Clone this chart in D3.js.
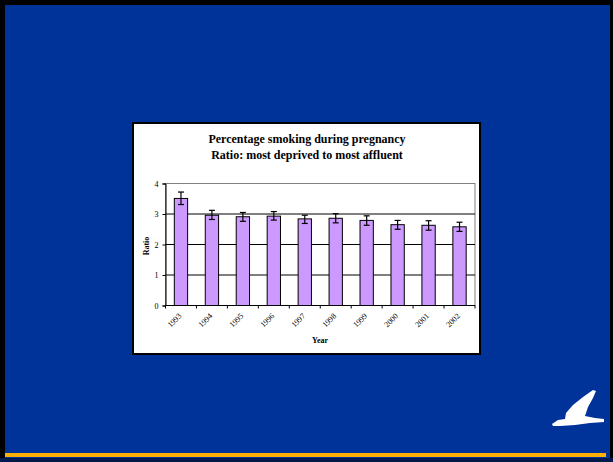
<!DOCTYPE html>
<html>
<head>
<meta charset="utf-8">
<script src="https://cdn.jsdelivr.net/npm/d3@7"></script>
<style>
  body { margin: 0; background: #fff; }
  svg { display: block; }
</style>
</head>
<body>
<div class="chart"></div>
<script>
// chart values
const years = ['1993', '1994', '1995', '1996', '1997', '1998', '1999', '2000', '2001', '2002'];
const ratios = [3.51, 2.96, 2.91, 2.93, 2.84, 2.86, 2.79, 2.65, 2.63, 2.58];
const errLow = [3.31, 2.82, 2.76, 2.80, 2.69, 2.71, 2.63, 2.50, 2.47, 2.43];
const errHigh = [3.72, 3.12, 3.05, 3.08, 2.96, 3.01, 2.94, 2.79, 2.78, 2.73];
const yTicks = [0, 1, 2, 3, 4];
const titleLines = ['Percentage smoking during pregnancy', 'Ratio: most deprived to most affluent'];

const width = 613;
const height = 462;

const svg = d3.select('.chart')
  .append('svg')
  .attr('width', width)
  .attr('height', height);

// slide frame
svg.append('rect').attr('x', 0).attr('y', 0).attr('width', width).attr('height', height).attr('fill', '#000');
svg.append('rect').attr('x', 5).attr('y', 5).attr('width', 605).attr('height', 453).attr('fill', '#003399');
svg.append('rect').attr('x', 5).attr('y', 453).attr('width', 601).attr('height', 4).attr('fill', '#ffb000');
svg.append('rect').attr('x', 0).attr('y', 458).attr('width', width).attr('height', 4).attr('fill', '#001a4d');

// bird logo
svg.append('path')
  .attr('d', 'M552,424 L558,420 L565,419 L566,413 L573,405 L583,397 L593,390 L596,391 L593,398 L588,407 L585,416 L595,418 L604,419 L604,422 L590,423 L575,425 L560,426 L553,426 Z')
  .attr('fill', '#fff');

// chart box
svg.append('rect')
  .attr('x', 133).attr('y', 123).attr('width', 347).attr('height', 231)
  .attr('fill', '#fff').attr('stroke', '#000').attr('stroke-width', 2);

const margin = { left: 165.5, right: 475, top: 183.5, bottom: 305.5 };

const x = d3.scaleBand()
  .domain(years)
  .range([margin.left, margin.right])
  .paddingInner(0.57)
  .paddingOuter(0.285);

const y = d3.scaleLinear()
  .domain([0, 4])
  .range([margin.bottom, margin.top]);

// plot area border
svg.append('rect')
  .attr('x', margin.left).attr('y', margin.top)
  .attr('width', margin.right - margin.left).attr('height', margin.bottom - margin.top)
  .attr('fill', 'none').attr('stroke', '#808080');

// gridlines
svg.append('g')
  .selectAll('line')
  .data(yTicks.filter(d => d > 0 && d < 4))
  .enter()
    .append('line')
    .attr('x1', margin.left).attr('x2', margin.right)
    .attr('y1', d => y(d)).attr('y2', d => y(d))
    .attr('stroke', '#000');

// bars
svg.append('g')
  .selectAll('rect')
  .data(ratios)
  .enter()
    .append('rect')
    .attr('x', (d, i) => x(years[i]))
    .attr('y', d => y(d))
    .attr('width', x.bandwidth())
    .attr('height', d => y(0) - y(d))
    .attr('fill', '#cc99ff')
    .attr('stroke', '#000');

// error bars
const err = svg.append('g').attr('stroke', '#000').attr('stroke-width', 1.2);
years.forEach((yr, i) => {
  const cx = x(yr) + x.bandwidth() / 2;
  err.append('line').attr('x1', cx).attr('x2', cx).attr('y1', y(errLow[i])).attr('y2', y(errHigh[i]));
  err.append('line').attr('x1', cx - 3).attr('x2', cx + 3).attr('y1', y(errLow[i])).attr('y2', y(errLow[i]));
  err.append('line').attr('x1', cx - 3).attr('x2', cx + 3).attr('y1', y(errHigh[i])).attr('y2', y(errHigh[i]));
});

// y axis
const yAxis = svg.append('g')
  .attr('transform', `translate(${margin.left},0)`)
  .call(d3.axisLeft(y).tickValues(yTicks).tickSize(3).tickPadding(4).tickFormat(d3.format('d')));
yAxis.select('.domain').attr('stroke', '#000');
yAxis.selectAll('text').attr('font-family', 'Liberation Serif').attr('font-size', 8).attr('fill', '#000');

// x axis: ticks sit between categories
const band = (margin.right - margin.left) / years.length;
const xAxis = svg.append('g');
xAxis.append('line')
  .attr('x1', margin.left).attr('x2', margin.right)
  .attr('y1', margin.bottom).attr('y2', margin.bottom)
  .attr('stroke', '#000');
xAxis.selectAll('line.tick')
  .data(d3.range(years.length + 1))
  .enter()
    .append('line')
    .attr('class', 'tick')
    .attr('x1', d => margin.left + d * band).attr('x2', d => margin.left + d * band)
    .attr('y1', margin.bottom).attr('y2', margin.bottom + 3)
    .attr('stroke', '#000');
xAxis.selectAll('text')
  .data(years)
  .enter()
    .append('text')
    .attr('transform', d => `translate(${x(d) + x.bandwidth() / 2 - 1},${margin.bottom + 9}) rotate(-45)`)
    .attr('text-anchor', 'end')
    .attr('dy', '0.35em')
    .attr('font-family', 'Liberation Serif')
    .attr('font-size', 8)
    .text(d => d);

// titles
svg.append('g')
  .selectAll('text')
  .data(titleLines)
  .enter()
    .append('text')
    .attr('x', 307)
    .attr('y', (d, i) => 143 + i * 16)
    .attr('text-anchor', 'middle')
    .attr('font-family', 'Liberation Serif')
    .attr('font-weight', 'bold')
    .attr('font-size', 12)
    .text(d => d);

svg.append('text')
  .attr('transform', 'translate(149,246) rotate(-90)')
  .attr('text-anchor', 'middle')
  .attr('font-family', 'Liberation Serif')
  .attr('font-weight', 'bold')
  .attr('font-size', 8)
  .text('Ratio');

svg.append('text')
  .attr('x', 320)
  .attr('y', 343)
  .attr('text-anchor', 'middle')
  .attr('font-family', 'Liberation Serif')
  .attr('font-weight', 'bold')
  .attr('font-size', 8)
  .text('Year');
</script>
</body>
</html>
